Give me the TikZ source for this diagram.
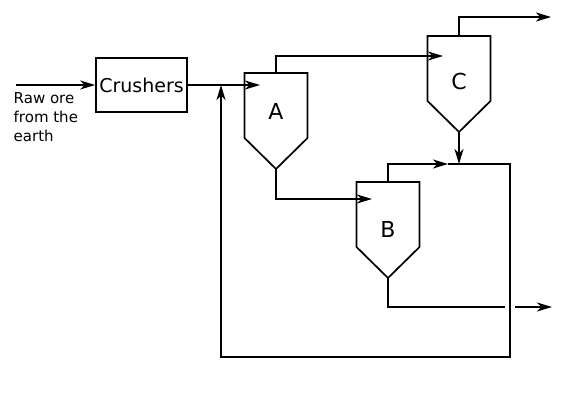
\documentclass[tikz,border=0pt]{standalone}
\usepackage{fontspec}
\setmainfont{DejaVu Sans}
\usetikzlibrary{arrows.meta}
\tikzset{
  line/.style={line width=1.7pt, line cap=butt, line join=miter},
  arr/.style={line, -{Stealth[length=15pt, width=9pt, inset=4.5pt]}},
  vesselbody/.style={line width=1.7pt, line join=miter},
  vessel/.pic={
    \draw[vesselbody] (-31.5,0) -- (31.5,0) -- (31.5,65) -- (0,96) -- (-31.5,65) -- cycle;
    \coordinate (-top) at (0,0);
    \coordinate (-apex) at (0,96);
  },
  lbl/.style={font=\fontsize{22}{26}\selectfont, inner sep=0pt},
}
\begin{document}
\begin{tikzpicture}[x=1pt, y=-1pt]
\useasboundingbox (0,0) rectangle (580,404);

% crushers
\node[line, draw, minimum width=91pt, minimum height=54pt, inner sep=0pt,
      font=\fontsize{19}{22}\selectfont] (crushers) at (141.5,85) {Crushers};
\node[anchor=north west, inner sep=0pt, align=left,
      font=\fontsize{15}{19}\selectfont] (rawore) at (13.5,92) {Raw ore\\from the\\earth};
\coordinate (in) at (16,85);
\draw[arr] (in) -- (crushers.west);

% vessels
\pic (A) at (276,73) {vessel};
\pic (C) at (459,36) {vessel};
\pic (B) at (388,182) {vessel};
\node[lbl] (Alabel) at (276,111) {A};
\node[lbl] (Clabel) at (459,81) {C};
\node[lbl] (Blabel) at (388,229) {B};

% coordinates
\coordinate (Afeed) at (260,85);
\coordinate (Cfeed) at (443,56);
\coordinate (Cout) at (551,17);
\coordinate (Bfeed) at (372,199);
\coordinate (Cjoin) at (459,164);
\coordinate (midarr) at (448,164);
\coordinate (rA) at (510,164);
\coordinate (rB) at (510,357);
\coordinate (rC) at (221,357);
\coordinate (rD) at (221,85);
\coordinate (gapL) at (505,307);
\coordinate (gapR) at (515,307);
\coordinate (Bout) at (552,307);

% connectors
\draw[arr] (crushers.east) -- (Afeed);
\draw[arr] (A-top) |- (Cfeed);
\draw[arr] (C-top) |- (Cout);
\draw[arr] (C-apex) -- (Cjoin);
\draw[arr] (A-apex) |- (Bfeed);
\draw[arr] (B-top) |- (midarr);
\draw[line] (midarr) -- (rA) -- (rB) -- (rC) -- ([yshift=-0.85pt]rC);
\draw[arr] (rC) -- (rD);
\draw[line] (B-apex) |- (gapL);
\draw[arr] (gapR) -- (Bout);
\end{tikzpicture}
\end{document}
